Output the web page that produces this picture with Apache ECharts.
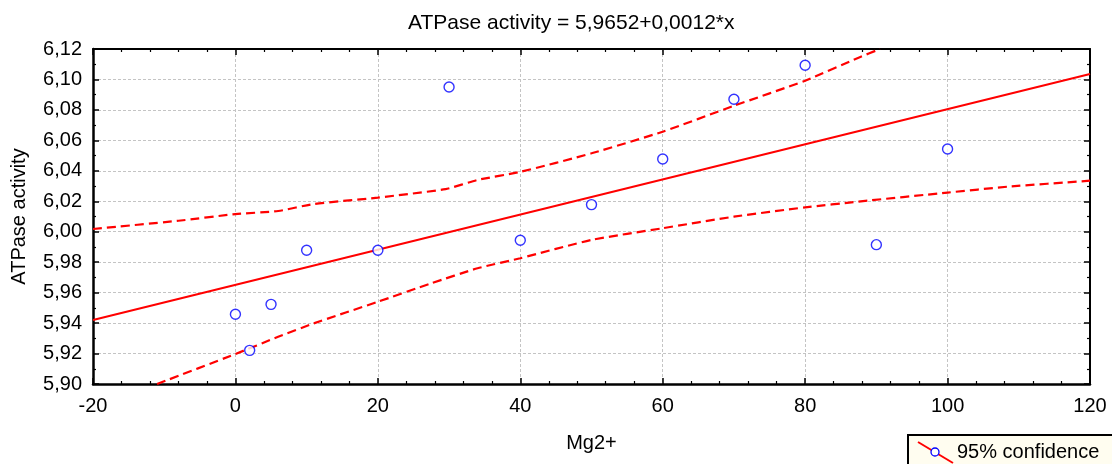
<!DOCTYPE html>
<html>
<head>
<meta charset="utf-8">
<script src="https://cdn.jsdelivr.net/npm/echarts@6/dist/echarts.min.js"></script>
<style>
html,body{margin:0;padding:0;background:#fff;}
#chart{width:1112px;height:464px;}
</style>
</head>
<body>
<div id="chart"></div>
<script>
// ---- data ----
const mgValues = [0, 2, 5, 10, 20, 30, 40, 50, 60, 70, 80, 90, 100];
const activity = [5.9458, 5.9221, 5.9523, 5.9878, 5.9878, 6.0950, 5.9944, 6.0178, 6.0478, 6.0870, 6.1093, 5.9915, 6.0543];

const fitX = [-20, 120];
const fitY = [5.942, 6.1036];

const upperX = [-20, -8, 0, 6, 11, 20, 29.5, 34, 40, 50, 60, 70, 80, 87.5, 90.5];
const upperY = [6.0018, 6.0072, 6.0116, 6.0136, 6.0182, 6.0224, 6.028, 6.034, 6.0393, 6.0515, 6.0657, 6.0827, 6.0992, 6.1143, 6.12];

const lowerX = [-11, 0, 6, 11, 20, 27.5, 34, 40, 50, 60, 70, 80, 87.5, 100, 108.5, 120];
const lowerY = [5.90, 5.9197, 5.931, 5.9398, 5.954, 5.9661, 5.976, 5.9826, 5.9946, 6.0023, 6.0099, 6.016, 6.0198, 6.0257, 6.0296, 6.0335];

const titleText = 'ATPase activity = 5,9652+0,0012*x';
const xName = 'Mg2+';
const yName = 'ATPase activity';
const legendText = '95% confidence';

const zip = (a, b) => a.map((v, i) => [v, b[i]]);
const FONT = 'Liberation Sans, Arial, sans-serif';

const chart = echarts.init(document.getElementById('chart'), null, {renderer: 'canvas'});

const tickCommon = {show: true, inside: true, length: 6, lineStyle: {color: '#000', width: 1.5}};
const minorCommon = (n) => ({show: true, splitNumber: n, length: 3, lineStyle: {color: '#000', width: 1.2}});

chart.setOption({
  animation: false,
  backgroundColor: '#fff',
  title: {
    text: titleText,
    left: 408, top: 13, padding: 0,
    textStyle: {fontFamily: FONT, fontSize: 21, fontWeight: 'normal', color: '#000'}
  },
  grid: {left: 93, right: 22, top: 49, bottom: 80},
  xAxis: [{
    type: 'value', min: -20, max: 120, interval: 20,
    name: xName, nameLocation: 'middle', nameGap: 49,
    nameTextStyle: {fontFamily: FONT, fontSize: 20, color: '#000'},
    axisLine: {show: true, onZero: false, lineStyle: {color: '#000', width: 2.5}},
    axisTick: tickCommon,
    minorTick: minorCommon(5),
    axisLabel: {fontFamily: FONT, fontSize: 20, color: '#000', margin: 12},
    splitLine: {show: true, lineStyle: {color: '#c4c4c4', type: [3, 2], width: 1}}
  }, {
    type: 'value', min: -20, max: 120, interval: 20, position: 'top',
    axisLine: {show: true, onZero: false, lineStyle: {color: '#000', width: 2}},
    axisTick: tickCommon, minorTick: minorCommon(5),
    axisLabel: {show: false}, splitLine: {show: false}
  }],
  yAxis: [{
    type: 'value', min: 5.90, max: 6.12, interval: 0.02,
    name: yName, nameLocation: 'middle', nameGap: 64, nameRotate: 90,
    nameTextStyle: {fontFamily: FONT, fontSize: 20, color: '#000'},
    axisLine: {show: true, onZero: false, lineStyle: {color: '#000', width: 2.5}},
    axisTick: tickCommon,
    minorTick: minorCommon(2),
    axisLabel: {fontFamily: FONT, fontSize: 20, color: '#000', margin: 11,
      formatter: v => v.toFixed(2).replace('.', ',')},
    splitLine: {show: true, lineStyle: {color: '#c4c4c4', type: [3, 2], width: 1}}
  }, {
    type: 'value', min: 5.90, max: 6.12, interval: 0.02, position: 'right',
    axisLine: {show: true, onZero: false, lineStyle: {color: '#000', width: 2}},
    axisTick: tickCommon, minorTick: minorCommon(2),
    axisLabel: {show: false}, splitLine: {show: false}
  }],
  series: [
    {
      type: 'line', data: zip(upperX, upperY), symbol: 'none', smooth: 0.2, clip: true,
      lineStyle: {color: '#ff0000', width: 2.2, type: [9, 5]}, z: 3
    },
    {
      type: 'line', data: zip(lowerX, lowerY), symbol: 'none', smooth: 0.2, clip: true,
      lineStyle: {color: '#ff0000', width: 2.2, type: [9, 5]}, z: 3
    },
    {
      type: 'line', data: zip(fitX, fitY), symbol: 'none', clip: true,
      lineStyle: {color: '#ff0000', width: 2}, z: 4
    },
    {
      type: 'scatter', data: zip(mgValues, activity), symbol: 'circle', symbolSize: 10,
      itemStyle: {color: '#ffffff', borderColor: '#0000ff', borderWidth: 1.4}, z: 5
    }
  ],
  graphic: [
    {type: 'rect', left: 907, top: 434, shape: {width: 220, height: 34},
     style: {fill: '#fffdf0', stroke: '#000', lineWidth: 2}, z: 10},
    {type: 'line', shape: {x1: 918, y1: 442, x2: 953, y2: 463},
     style: {stroke: '#ff0000', lineWidth: 2}, z: 11},
    {type: 'circle', shape: {cx: 935, cy: 452, r: 4},
     style: {fill: '#ffffff', stroke: '#0000ff', lineWidth: 1.3}, z: 12},
    {type: 'text', left: 957, top: 442,
     style: {text: legendText, font: '20px ' + FONT, fill: '#000'}, z: 12}
  ]
});
</script>
</body>
</html>
